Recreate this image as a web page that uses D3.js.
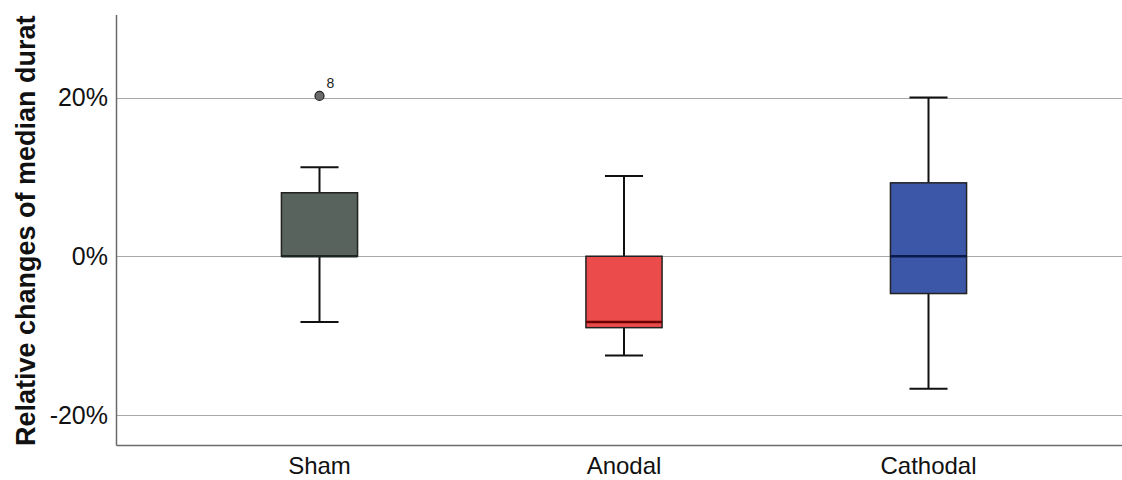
<!DOCTYPE html>
<html>
<head>
<meta charset="utf-8">
<script src="https://cdn.jsdelivr.net/npm/d3@7"></script>
<style>
  html, body { margin: 0; padding: 0; background: #fff; }
  svg { display: block; }
  text { font-family: "Liberation Sans", Arial, sans-serif; }
</style>
</head>
<body>
<svg id="chart" width="1122" height="480"></svg>
<script>
// ---- data (percent) ----
const categories = ["Sham", "Anodal", "Cathodal"];
const whiskerLow  = [-8.3, -12.5, -16.7];
const q1          = [0, -9.0, -4.7];
const median      = [0, -8.3, 0];
const q3          = [8.0, 0, 9.25];
const whiskerHigh = [11.2, 10.1, 20.0];
const outlierCategory = ["Sham"];
const outlierValue    = [20.2];
const outlierLabel    = ["8"];
const yTicks = [-20, 0, 20];
const yTickLabels = ["-20%", "0%", "20%"];
const fills   = ["#59635e", "#ec4b4b", "#3d57a8"];
const medianColors = ["#1f2622", "#6b0000", "#0a1a4a"];
const yTitle = "Relative changes of median durat";

(function () {
const svg = d3.select("#chart");
const W = 1122, H = 480;
const plotLeft = 116.5, plotBottom = 445.5, plotTop = 15;

const y = d3.scaleLinear().domain([-23.85, 30.4]).range([plotBottom, plotTop]);
const x = d3.scaleBand().domain(categories).range([167.25, 1080.75]).padding(0);

// gridlines
svg.append("g").selectAll("line").data(yTicks).join("line")
  .attr("x1", plotLeft).attr("x2", W)
  .attr("y1", d => Math.round(y(d)) + 0.5).attr("y2", d => Math.round(y(d)) + 0.5)
  .attr("stroke", "#a8a8a8").attr("stroke-width", 1.2);

// axes lines
svg.append("line").attr("x1", plotLeft).attr("x2", plotLeft).attr("y1", plotTop).attr("y2", plotBottom)
  .attr("stroke", "#6a6a6a").attr("stroke-width", 1.5);
svg.append("line").attr("x1", plotLeft).attr("x2", W).attr("y1", plotBottom).attr("y2", plotBottom)
  .attr("stroke", "#6a6a6a").attr("stroke-width", 1.5);

// y tick labels
svg.append("g").selectAll("text").data(yTicks).join("text")
  .attr("x", 108).attr("y", d => y(d))
  .attr("dy", "0.35em").attr("text-anchor", "end")
  .attr("font-size", 25).attr("fill", "#111")
  .text((d, i) => yTickLabels[i]);

// x labels
svg.append("g").selectAll("text").data(categories).join("text")
  .attr("x", d => x(d) + x.bandwidth() / 2).attr("y", 474)
  .attr("text-anchor", "middle").attr("font-size", 24).attr("fill", "#111")
  .text(d => d);

// y title
svg.append("text")
  .attr("transform", "translate(35,446) rotate(-90)")
  .attr("text-anchor", "start").attr("font-size", 27).attr("font-weight", "bold")
  .attr("fill", "#111")
  .text(yTitle);

// boxes
const boxW = x.bandwidth() * 0.25;
const capW = boxW / 2;
const g = svg.append("g");
categories.forEach((c, i) => {
  const cx = x(c) + x.bandwidth() / 2;
  g.append("line").attr("x1", cx).attr("x2", cx)
    .attr("y1", y(whiskerHigh[i])).attr("y2", y(q3[i]))
    .attr("stroke", "#111").attr("stroke-width", 2);
  g.append("line").attr("x1", cx).attr("x2", cx)
    .attr("y1", y(q1[i])).attr("y2", y(whiskerLow[i]))
    .attr("stroke", "#111").attr("stroke-width", 2);
  [whiskerHigh[i], whiskerLow[i]].forEach(v => {
    g.append("line").attr("x1", cx - capW / 2).attr("x2", cx + capW / 2)
      .attr("y1", y(v)).attr("y2", y(v))
      .attr("stroke", "#111").attr("stroke-width", 2);
  });
  g.append("rect")
    .attr("x", cx - boxW / 2).attr("width", boxW)
    .attr("y", y(q3[i])).attr("height", y(q1[i]) - y(q3[i]))
    .attr("fill", fills[i]).attr("stroke", "#222").attr("stroke-width", 1.5);
  g.append("line").attr("x1", cx - boxW / 2).attr("x2", cx + boxW / 2)
    .attr("y1", y(median[i])).attr("y2", y(median[i]))
    .attr("stroke", medianColors[i]).attr("stroke-width", 2.5);
});

// outliers
outlierCategory.forEach((c, i) => {
  const cx = x(c) + x.bandwidth() / 2;
  svg.append("circle").attr("cx", cx).attr("cy", y(outlierValue[i])).attr("r", 4.5)
    .attr("fill", "#6a6a6a").attr("stroke", "#222").attr("stroke-width", 1.2);
  svg.append("text").attr("x", cx + 7).attr("y", y(outlierValue[i]) - 8)
    .attr("font-size", 14).attr("fill", "#222").text(outlierLabel[i]);
});
})();
</script>
</body>
</html>
